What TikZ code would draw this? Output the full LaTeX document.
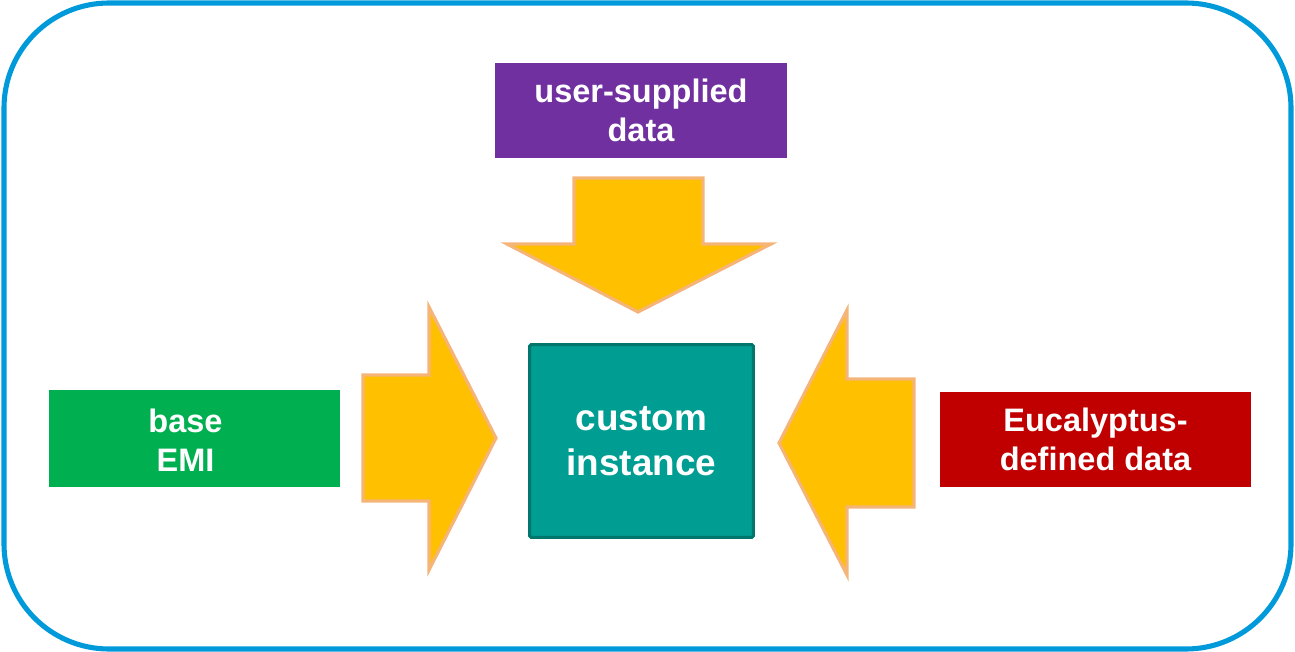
\documentclass[tikz,border=0pt]{standalone}
\usepackage{fontspec}
\setmainfont{Liberation Sans}
\definecolor{framecol}{RGB}{0,153,218}
\definecolor{userpurple}{RGB}{112,48,160}
\definecolor{emigreen}{RGB}{0,176,80}
\definecolor{eucared}{RGB}{192,0,0}
\definecolor{instteal}{RGB}{0,158,146}
\definecolor{instedge}{RGB}{0,118,108}
\definecolor{arrowgold}{RGB}{255,192,0}
\definecolor{arrowedge}{RGB}{246,181,120}
\tikzset{
  databox/.style={inner sep=0pt,align=center,text=white,font=\bfseries\fontsize{18.5}{22}\selectfont},
  blockarrow/.style={fill=arrowgold,draw=arrowedge,line width=1.8pt,line join=miter}
}
\begin{document}
\begin{tikzpicture}[x=0.02cm,y=-0.02cm]
  \useasboundingbox (0,0) rectangle (1295,652);
  \draw[framecol,line width=2.9pt,rounded corners=2.1cm] (4,3) rectangle (1291,649);
  % the three feeds
  \node[databox,fill=userpurple,minimum width=5.84cm,minimum height=1.9cm] (user) at (641,110.5)
  {user-supplied\\data};
  \node[databox,fill=emigreen,minimum width=5.82cm,minimum height=1.94cm] (emi) at (194.5,438.5) {};
  \node[databox] (emitext) at (185.5,440) {base\\EMI};
  \node[databox,fill=eucared,minimum width=6.22cm,minimum height=1.9cm] (euca) at (1095.5,439.5)
  {Eucalyptus-\\defined data};
  \node[databox,fill=instteal,draw=instedge,line width=1.7pt,rounded corners=1pt,
  minimum width=4.48cm,minimum height=3.86cm,font=\bfseries\fontsize{21}{25.5}\selectfont]
  (inst) at (641.5,441) {custom\\instance};
  % block arrows
  \draw[blockarrow] (574,178) -- (703,178) -- (703,244) -- (771,244) -- (638,312)
  -- (507,244) -- (574,244) -- cycle;
  \draw[blockarrow] (363,375) -- (429,375) -- (429,307) -- (496,438) -- (429,570)
  -- (429,501) -- (363,501) -- cycle;
  \draw[blockarrow] (914,379) -- (847,379) -- (847,310) -- (779,443) -- (847,575)
  -- (847,507) -- (914,507) -- cycle;
\end{tikzpicture}
\end{document}
